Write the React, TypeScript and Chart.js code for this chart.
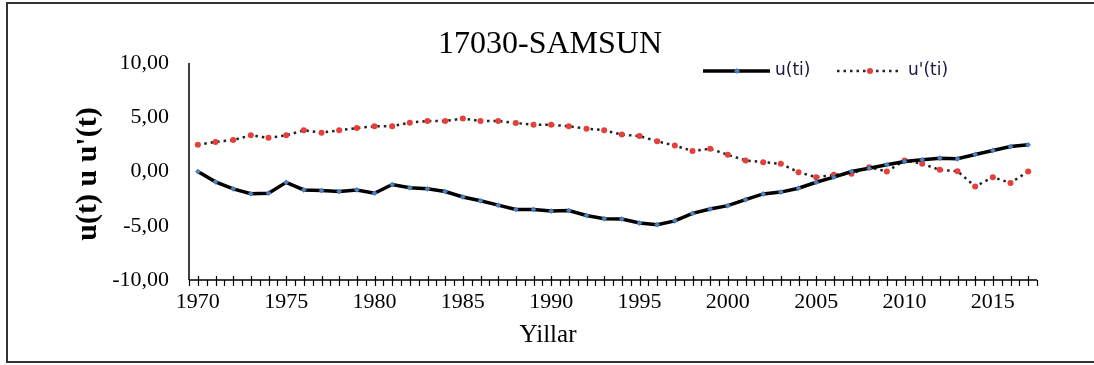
import React, { useEffect, useRef } from "react";
import { Chart, registerables } from "chart.js";

Chart.register(...registerables);

const years: string[] = [
  "1970","1971","1972","1973","1974","1975","1976","1977","1978","1979",
  "1980","1981","1982","1983","1984","1985","1986","1987","1988","1989",
  "1990","1991","1992","1993","1994","1995","1996","1997","1998","1999",
  "2000","2001","2002","2003","2004","2005","2006","2007","2008","2009",
  "2010","2011","2012","2013","2014","2015","2016","2017",
];

const uValues: number[] = [
  0.0, -0.95, -1.6, -2.05, -2.0, -1.0, -1.7, -1.76, -1.85, -1.7,
  -2.0, -1.2, -1.5, -1.6, -1.85, -2.35, -2.7, -3.1, -3.5, -3.5,
  -3.65, -3.6, -4.05, -4.35, -4.38, -4.75, -4.9, -4.55, -3.86, -3.46,
  -3.15, -2.6, -2.07, -1.9, -1.54, -0.99, -0.52, 0.0, 0.3, 0.62,
  0.93, 1.08, 1.23, 1.17, 1.57, 1.94, 2.3, 2.46,
];

const uPrimeValues: number[] = [
  2.47, 2.72, 2.9, 3.33, 3.1, 3.33, 3.8, 3.58, 3.8, 4.0,
  4.17, 4.17, 4.5, 4.66, 4.66, 4.88, 4.66, 4.66, 4.47, 4.3,
  4.3, 4.17, 3.95, 3.8, 3.4, 3.27, 2.78, 2.4, 1.88, 2.1,
  1.54, 1.02, 0.86, 0.71, -0.06, -0.52, -0.31, -0.2, 0.4, 0.0,
  1.02, 0.71, 0.15, 0.03, -1.39, -0.52, -1.05, 0.0,
];

const yMin = -10;
const yMax = 10;
const yStep = 5;
const xLabelEvery = 5;

const chartTitle = "17030-SAMSUN";
const yAxisTitle = "u(t) u u'(t)";
const xAxisTitle = "Yillar";
const seriesNames = ["u(ti)", "u'(ti)"];

const SERIF = "'Liberation Serif', 'Times New Roman', serif";
const SANS = "'DejaVu Sans', Verdana, sans-serif";
const BLUE = "#4f81bd";
const RED = "#e5403b";

const decorPlugin = {
  id: "decor",
  afterDraw(chart: any) {
    const ctx = chart.ctx as CanvasRenderingContext2D;
    const area = chart.chartArea;
    const xs = chart.scales.x;
    ctx.save();

    // outer frame
    ctx.strokeStyle = "#333";
    ctx.lineWidth = 2;
    ctx.beginPath();
    ctx.moveTo(1094, 3);
    ctx.lineTo(7, 3);
    ctx.lineTo(7, 362);
    ctx.lineTo(1094, 362);
    ctx.stroke();

    // axes
    ctx.strokeStyle = "#000";
    ctx.lineWidth = 1.5;
    ctx.beginPath();
    ctx.moveTo(area.left, area.top);
    ctx.lineTo(area.left, area.bottom);
    ctx.moveTo(area.left, area.bottom);
    ctx.lineTo(area.right, area.bottom);
    ctx.stroke();

    // x ticks
    const n = years.length;
    const step = xs.getPixelForValue(1) - xs.getPixelForValue(0);
    ctx.lineWidth = 1.2;
    ctx.beginPath();
    for (let i = 0; i < n; i++) {
      const c = Math.round(xs.getPixelForValue(i)) + 0.5;
      ctx.moveTo(c, area.bottom - 4);
      ctx.lineTo(c, area.bottom + 6);
    }
    for (let i = 0; i <= n; i++) {
      const b = Math.round(i === n ? area.right : xs.getPixelForValue(i) - step / 2) + 0.5;
      ctx.moveTo(b, area.bottom);
      ctx.lineTo(b, area.bottom + 6);
    }
    ctx.stroke();

    // x tick labels
    ctx.fillStyle = "#000";
    ctx.font = `22px ${SERIF}`;
    ctx.textAlign = "center";
    ctx.textBaseline = "alphabetic";
    for (let i = 0; i < n; i++) {
      if (Number(years[i]) % xLabelEvery === 0) {
        ctx.fillText(years[i], xs.getPixelForValue(i), 308);
      }
    }

    // title
    ctx.font = `32px ${SERIF}`;
    ctx.fillText(chartTitle, 550, 53);

    // x axis title
    ctx.font = `25px ${SERIF}`;
    ctx.fillText(xAxisTitle, 548, 342);

    // y axis title
    ctx.save();
    ctx.translate(96, 174);
    ctx.rotate(-Math.PI / 2);
    ctx.font = `bold 30px ${SERIF}`;
    ctx.textAlign = "center";
    ctx.textBaseline = "alphabetic";
    ctx.fillText(yAxisTitle, 0, 0);
    ctx.restore();

    // legend
    const ly = 71;
    ctx.strokeStyle = "#000";
    ctx.lineWidth = 3.5;
    ctx.beginPath();
    ctx.moveTo(703, ly);
    ctx.lineTo(770, ly);
    ctx.stroke();
    ctx.fillStyle = BLUE;
    ctx.beginPath();
    ctx.moveTo(737, ly - 3);
    ctx.lineTo(740, ly);
    ctx.lineTo(737, ly + 3);
    ctx.lineTo(734, ly);
    ctx.closePath();
    ctx.fill();

    ctx.strokeStyle = "#222";
    ctx.lineWidth = 2.5;
    ctx.setLineDash([2.5, 4]);
    ctx.beginPath();
    ctx.moveTo(837, ly);
    ctx.lineTo(900, ly);
    ctx.stroke();
    ctx.setLineDash([]);
    ctx.fillStyle = RED;
    ctx.beginPath();
    ctx.arc(870, ly, 3, 0, Math.PI * 2);
    ctx.fill();

    ctx.fillStyle = "#1a1a40";
    ctx.font = `17px ${SANS}`;
    ctx.textAlign = "left";
    ctx.textBaseline = "middle";
    ctx.fillText(seriesNames[0], 775, ly);
    ctx.fillText(seriesNames[1], 908, ly);

    ctx.restore();
  },
};

export default function App() {
  const canvasRef = useRef<HTMLCanvasElement | null>(null);

  useEffect(() => {
    document.body.style.margin = "0";
    const canvas = canvasRef.current;
    if (!canvas) return;
    const chart = new Chart(canvas, {
      type: "line",
      data: {
        labels: years,
        datasets: [
          {
            label: seriesNames[0],
            data: uValues,
            borderColor: "#000",
            borderWidth: 3.5,
            pointStyle: "rectRot",
            pointRadius: 2.6,
            pointBackgroundColor: BLUE,
            pointBorderColor: BLUE,
            pointBorderWidth: 0.5,
            tension: 0,
            fill: false,
          },
          {
            label: seriesNames[1],
            data: uPrimeValues,
            borderColor: "#222",
            borderWidth: 2.5,
            borderDash: [2.5, 4],
            pointStyle: "circle",
            pointRadius: 3,
            pointBackgroundColor: RED,
            pointBorderColor: RED,
            pointBorderWidth: 0,
            tension: 0,
            fill: false,
          },
        ],
      },
      options: {
        responsive: false,
        devicePixelRatio: 1,
        animation: false,
        layout: { padding: { left: 0, right: 57, top: 63, bottom: 85 } },
        plugins: {
          legend: { display: false },
          title: { display: false },
          tooltip: { enabled: false },
        },
        scales: {
          x: {
            type: "category",
            offset: true,
            grid: { display: false, drawTicks: false },
            border: { display: false },
            ticks: { display: false },
            afterFit: (s: any) => {
              s.height = 0;
            },
          },
          y: {
            min: yMin,
            max: yMax,
            grid: { display: false, drawTicks: false },
            border: { display: false },
            ticks: {
              stepSize: yStep,
              padding: 20,
              color: "#000",
              font: { family: SERIF, size: 22 },
              callback: (v: any) => Number(v).toFixed(2).replace(".", ","),
            },
            afterFit: (s: any) => {
              s.width = 189;
            },
          },
        },
      },
      plugins: [decorPlugin],
    });
    return () => chart.destroy();
  }, []);

  return (
    <div style={{ width: 1094, height: 365, background: "#fff" }}>
      <canvas ref={canvasRef} width={1094} height={365} style={{ display: "block", width: 1094, height: 365 }} />
    </div>
  );
}
